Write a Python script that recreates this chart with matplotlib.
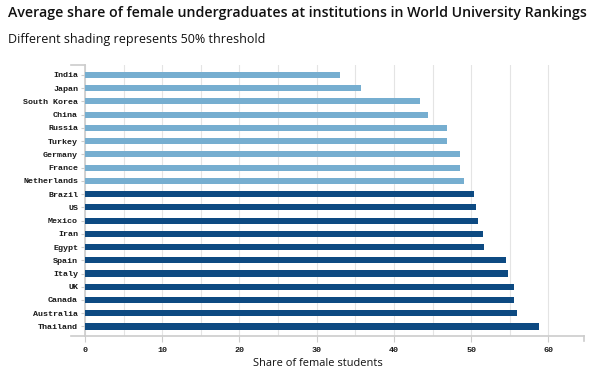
import matplotlib
matplotlib.use("Agg")
import matplotlib.pyplot as plt
from matplotlib.ticker import MultipleLocator

countries = ["India", "Japan", "South Korea", "China", "Russia", "Turkey", "Germany",
             "France", "Netherlands", "Brazil", "US", "Mexico", "Iran", "Egypt", "Spain",
             "Italy", "UK", "Canada", "Australia", "Thailand"]
shares = [33.0, 35.7, 43.4, 44.4, 46.8, 46.8, 48.5, 48.5, 49.1, 50.4, 50.6, 50.9,
          51.5, 51.6, 54.5, 54.7, 55.5, 55.6, 55.9, 58.8]
threshold = 50

light = "#76AED0"
dark = "#0D4A82"
colors = [dark if v >= threshold else light for v in shares]

fig = plt.figure(figsize=(6, 3.76), dpi=100)
ax = fig.add_axes([85/600, 1-336/376, (584-85)/600, (336-65)/376])

ypos = list(range(len(countries)))
ax.barh(ypos, shares, height=0.46, color=colors, zorder=3)
ax.set_ylim(19.72, -0.75)
ax.set_xlim(0, 64.6)
ax.set_yticks(ypos)
ax.set_yticklabels(countries, family="Liberation Mono", fontweight="bold", fontsize=6, color="#1a1a1a")
ax.xaxis.set_major_locator(MultipleLocator(10))
ax.xaxis.set_minor_locator(MultipleLocator(5))
for lbl in ax.get_xticklabels():
    lbl.set_family("Liberation Mono")
    lbl.set_fontweight("bold")
    lbl.set_fontsize(6)
    lbl.set_color("#1a1a1a")
ax.grid(axis="x", which="both", color="#e4e4e4", linewidth=0.8, zorder=0)
for s in ["top", "right"]:
    ax.spines[s].set_visible(False)
ax.spines["left"].set_color("#cccccc")
ax.spines["bottom"].set_color("#cccccc")
ax.spines["left"].set_linewidth(1.2)
ax.spines["bottom"].set_linewidth(1.2)
ax.tick_params(axis="y", length=3, color="#cccccc", pad=2)
ax.tick_params(axis="x", which="major", length=4, color="#cccccc", pad=4)
ax.tick_params(axis="x", which="minor", length=0)

# axis end ticks
ax.plot([-0.028, 0], [1, 1], transform=ax.transAxes, color="#cccccc", lw=1.2, clip_on=False)
ax.plot([-0.028, 0], [0, 0], transform=ax.transAxes, color="#cccccc", lw=1.2, clip_on=False)
ax.plot([1, 1], [0, -0.02], transform=ax.transAxes, color="#cccccc", lw=1.2, clip_on=False)

fig.text(317.5/600, 1-363/376, "Share of female students", family="Open Sans", fontsize=7.9,
         color="#111111", ha="center", va="center")

fig.text(8/600, 1-13/376, "Average share of female undergraduates at institutions in World University Rankings",
         family="Open Sans", fontweight="semibold", fontsize=10.2, va="center", ha="left", color="#111111")
fig.text(8/600, 1-39/376, "Different shading represents 50% threshold",
         family="Open Sans", fontsize=9.0, va="center", ha="left", color="#111111")

fig.savefig("out.png", dpi=100)
